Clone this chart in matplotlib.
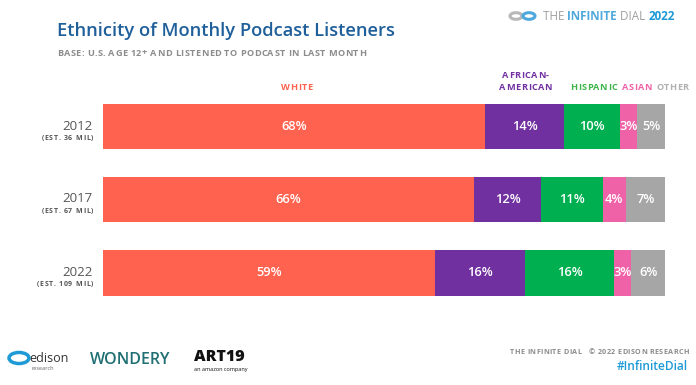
import numpy as np
import matplotlib.pyplot as plt
from matplotlib.patches import Circle
from matplotlib.font_manager import FontProperties

plt.rcParams['font.family'] = ['Open Sans', 'DejaVu Sans']

years = ['2012', '2017', '2022']
estimates = ['(EST. 36 MIL)', '(EST. 67 MIL)', '(EST. 109 MIL)']
groups = ['WHITE', 'AFRICAN-\nAMERICAN', 'HISPANIC', 'ASIAN', 'OTHER']
white = [68, 66, 59]
african_american = [14, 12, 16]
hispanic = [10, 11, 16]
asian = [3, 4, 3]
other = [5, 7, 6]
colors = ['#FF634F', '#7030A0', '#00B050', '#F062A8', '#A6A6A6']
label_colors = ['#FF634F', '#7030A0', '#3DB54A', '#F062A8', '#B0B0B0']

W, H = 696, 385
fig = plt.figure(figsize=(W / 100, H / 100), dpi=100)
renderer = fig.canvas.get_renderer()


def fx(px):
    return px / W


def fy(py):
    return 1 - py / H


def text_width(s, prop):
    # width in pixels, '|' trick keeps trailing spaces
    w1 = renderer.get_text_width_height_descent(s + '|', prop, ismath=False)[0]
    w2 = renderer.get_text_width_height_descent('|', prop, ismath=False)[0]
    return w1 - w2


def spaced_text(x, y, s, tracking, ha='left', size=6, weight='bold', color='#888888'):
    # letter-spaced text, x/y in pixels from the top-left corner
    prop = FontProperties(family=['Open Sans', 'DejaVu Sans'], size=size, weight=weight)
    total = text_width(s, prop) + tracking * (len(s) - 1)
    if ha == 'center':
        x0 = x - total / 2
    elif ha == 'right':
        x0 = x - total
    else:
        x0 = x
    for i, ch in enumerate(s):
        if ch == ' ':
            continue
        cx = x0 + text_width(s[:i], prop) + tracking * i
        fig.text(fx(cx), fy(y), ch, ha='left', va='center', fontproperties=prop, color=color)


ax = fig.add_axes([fx(103), fy(309.5), fx(665) - fx(103), fy(90) - fy(309.5)])

series = [white, african_american, hispanic, asian, other]
ypos = np.arange(len(years))
left = np.zeros(len(years))
for vals, c in zip(series, colors):
    vals = np.array(vals)
    ax.barh(ypos, vals, left=left, height=0.62, color=c, edgecolor='none')
    for y, l, v in zip(ypos, left, vals):
        ax.text(l + v / 2, y, f'{v}%', ha='center', va='center',
                color='white', fontsize=9.3, fontweight='semibold')
    left = left + vals

ax.set_xlim(0, 100)
ax.set_ylim(2.5, -0.5)
ax.axis('off')

# category labels above the 2012 bar
first = [s[0] for s in series]
starts = np.cumsum([0] + first[:-1])
centers = starts + np.array(first) / 2
nudge = [0.5, 0.2, 0.3, 1.5, 3.8]
to_px = ax.transData
for g, cx, dx, c in zip(groups, centers, nudge, label_colors):
    px = to_px.transform((cx + dx, 0))[0]
    lines = g.split('\n')
    for k, line in enumerate(lines[::-1]):
        spaced_text(px, 87.5 - 11.5 * k, line, 0.55, ha='center', size=6.6, color=c)

# year labels
for y, yr, est in zip(ypos, years, estimates):
    fig.text(fx(93), fy(126 + 73 * y), yr, ha='right', va='center',
             fontsize=9.5, color='#555555', fontweight='medium')
    spaced_text(93, 138.5 + 73 * y, est, 0.75, ha='right', size=5.0, color='#555555')

# title block
fig.text(fx(57), fy(31), 'Ethnicity of Monthly Podcast Listeners', ha='left',
         va='center', fontsize=13.2, color='#1F5F9A', fontweight='semibold')
spaced_text(57, 53, 'BASE: U.S. AGE 12+ AND LISTENED TO PODCAST IN LAST MONTH', 0.45,
            size=6.6, color='#8C8C8C')

# header logo
for cx, col in [(516, '#B8B8B8'), (529, '#4FA8DC')]:
    fig.patches.append(Circle((fx(cx), fy(16)), radius=6 / W, transform=fig.transFigure,
                              fill=False, lw=2.2, ec=col))
hx = 543
for txt, col, wt in [('THE ', '#A0A0A0', 'normal'), ('INFINITE', '#4FA8DC', 'bold'),
                     (' DIAL ', '#A0A0A0', 'normal'), ('2022', '#1E9AD6', 'bold')]:
    prop = FontProperties(family=['Open Sans', 'DejaVu Sans'], size=8.4, weight=wt)
    fig.text(fx(hx), fy(16), txt, ha='left', va='center', fontproperties=prop, color=col)
    hx += text_width(txt, prop)

# footer
spaced_text(689, 353, 'THE INFINITE DIAL   \u00a9 2022 EDISON RESEARCH', 0.4, ha='right',
            size=5.2, color='#8C8C8C')
fig.text(fx(688), fy(366.5), '#InfiniteDial', ha='right', va='center', fontsize=8.6,
         color='#1E9AD6', fontweight='semibold')

fig.patches.append(Circle((fx(19), fy(358)), radius=10 / W, transform=fig.transFigure,
                          fill=False, lw=2.5, ec='#1E9AD6'))
fig.text(fx(29), fy(359), 'edison', ha='left', va='center', fontsize=9, color='#333333')
fig.text(fx(31), fy(369), 'research', ha='left', va='center', fontsize=4, color='#666666')
fig.text(fx(90), fy(360), 'WONDERY', ha='left', va='center', fontsize=11.5,
         color='#1F6F73', fontweight='semibold')
fig.text(fx(194), fy(357), 'ART19', ha='left', va='center', fontsize=11.5,
         color='#111111', fontweight='heavy')
fig.text(fx(194), fy(369), 'an amazon company', ha='left', va='center', fontsize=4,
         color='#111111')

fig.savefig('out.png', dpi=100, facecolor='white')
